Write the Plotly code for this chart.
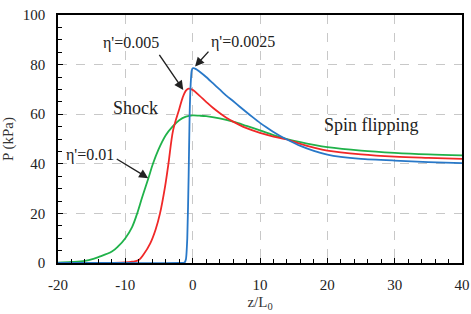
import plotly.graph_objects as go

# eta' = 0.0025 (blue)
z_blue = [-20, -10, -2, -1.2, -1.0, -0.8, -0.6, -0.45, -0.3, -0.15, 0, 0.5, 1, 2, 3, 4, 5, 6, 7, 8, 9, 10, 11, 12, 13, 14, 16, 18, 20, 22, 25, 30, 35, 40]
p_blue = [0, 0, 0, 0.2, 1.5, 10, 35, 60, 72, 77.5, 78.5, 78.2, 77.2, 75, 72.5, 70, 67.5, 65.3, 63, 60.8, 58.6, 56.5, 54.6, 52.8, 51.2, 49.8, 47.2, 45.2, 43.7, 42.8, 42, 41.3, 40.7, 40.3]

# eta' = 0.005 (red)
z_red = [-20, -12, -10, -9, -8, -7.3, -6.3, -5.5, -4.85, -4.1, -3.6, -2.9, -2, -1.5, -1, -0.6, 0, 1, 2, 3, 4, 5, 6, 7, 8, 10, 12, 14, 16, 18, 20, 25, 30, 35, 40]
p_red = [0, 0.05, 0.2, 0.5, 1.2, 3.4, 7.9, 13.5, 20, 30.8, 40, 53.6, 62, 66.6, 69.5, 70.3, 69.8, 67.5, 65, 62.6, 60.5, 58.6, 57, 55.6, 54.4, 52.5, 51, 49.8, 48, 46.5, 45.3, 43.8, 42.9, 42.4, 42]

# eta' = 0.01 (green)
z_green = [-20, -18, -16, -14.75, -14, -12, -11, -10, -9, -8.3, -7.5, -6.6, -5.9, -5.1, -4, -3, -2, -1, 0, 1, 2, 4, 6, 8, 10, 12, 14, 16, 18, 20, 25, 30, 35, 40]
p_green = [0.1, 0.4, 0.9, 1.7, 2.4, 4.6, 6.9, 10, 14.5, 19.5, 26.5, 34, 40, 45.6, 51.5, 55, 57.6, 59, 59.5, 59.4, 59.2, 58.3, 57, 55.3, 53.5, 51.6, 50, 48.7, 47.6, 46.7, 45.3, 44.4, 43.8, 43.4]

series = [
    ("η'=0.01", z_green, p_green, "#20b24a", 1.0),
    ("η'=0.005", z_red, p_red, "#f02828", 1.0),
    ("η'=0.0025", z_blue, p_blue, "#2878c8", 0.6),
]

x_ticks = [-20, -10, 0, 10, 20, 30, 40]
y_ticks = [0, 20, 40, 60, 80, 100]

fig = go.Figure()
for name, xs, ys, col, sm in series:
    fig.add_trace(go.Scatter(x=xs, y=ys, mode="lines", name=name,
                             line=dict(color=col, width=1.8, shape="spline", smoothing=sm)))

font_family = "Liberation Serif, Times New Roman, Times, serif"
axis_common = dict(
    showline=True, linecolor="black", linewidth=1.6, mirror=True,
    ticks="inside", tickcolor="black", ticklen=5, tickwidth=1.2,
    showgrid=True, gridcolor="#c8c8c8", griddash="dash", gridwidth=1,
    zeroline=False, automargin=False,
    tickfont=dict(family=font_family, size=15, color="#222"),
)

fig.update_xaxes(range=[-20, 40], tickvals=x_ticks, ticktext=[str(v) for v in x_ticks],
                 minor=dict(dtick=2, ticks="inside", ticklen=4, tickcolor="black", showgrid=False),
                 title=dict(text="z/L<sub>0</sub>", font=dict(family=font_family, size=15, color="#333"), standoff=5),
                 ticklabeloverflow="allow", ticklabelstandoff=7,
                 **axis_common)
fig.update_yaxes(range=[0, 100], tickvals=y_ticks, ticktext=[str(v) for v in y_ticks],
                 minor=dict(dtick=5, ticks="inside", ticklen=4, tickcolor="black", showgrid=False),
                 title=dict(text="P (kPa)", font=dict(family=font_family, size=15, color="#333"), standoff=6),
                 ticklabelstandoff=8,
                 **axis_common)

ann_font = dict(family=font_family, size=16, color="#222")
big_font = dict(family=font_family, size=18, color="#222")
arrow_style = dict(text=" ", showarrow=True, arrowhead=2, arrowsize=1.3, arrowwidth=1.4,
                   arrowcolor="#222", axref="x", ayref="y", font=dict(size=1))
annotations = [
    dict(x=-9.2, y=88.7, text="η'=0.005", showarrow=False, font=ann_font),
    dict(x=7.5, y=89.1, text="η'=0.0025", showarrow=False, font=ann_font),
    dict(x=-15.2, y=43.5, text="η'=0.01", showarrow=False, font=ann_font),
    dict(x=-8.5, y=62.5, text="Shock", showarrow=False, font=big_font),
    dict(x=26.6, y=55.6, text="Spin flipping", showarrow=False, font=big_font),
    dict(x=-1.4, y=69.8, ax=-5.15, ay=84.7, **arrow_style),
    dict(x=0.35, y=79.2, ax=2.57, ay=85.9, **arrow_style),
    dict(x=-6.6, y=34.2, ax=-11.5, ay=42.3, **arrow_style),
]

fig.update_layout(
    width=471, height=314,
    margin=dict(l=58, r=9, t=15, b=51),
    paper_bgcolor="white", plot_bgcolor="white",
    showlegend=False,
    font=dict(family=font_family),
    annotations=annotations,
)

fig.write_html("out.html", config={"displayModeBar": False},
               post_script="document.body.style.margin='0';document.body.style.overflow='hidden';")
